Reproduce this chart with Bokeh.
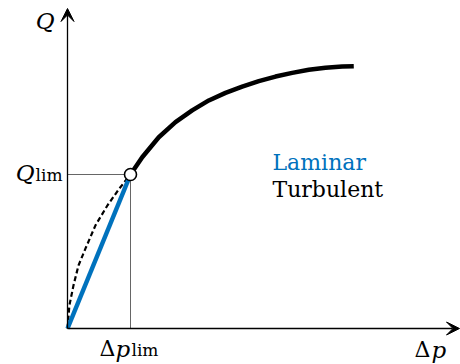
from bokeh.plotting import figure
from bokeh.models import Arrow, VeeHead, Label, Range1d
from bokeh.embed import file_html
from bokeh.resources import INLINE

# ---- data (Δp_lim = 1, Q_lim = 1) ----
dp_lim = 1.0
q_lim = 1.0
laminar_dp = [0.0, 1.0]
laminar_q = [0.0, 1.0]
dashed_dp = [0.0, 0.03, 0.095, 0.175, 0.286, 0.444, 0.635, 0.825, 1.0]
dashed_q = [0.0, 0.15, 0.28, 0.41, 0.52, 0.67, 0.80, 0.91, 1.0]
turb_dp = [1.0, 1.186, 1.449, 1.714, 1.979, 2.243, 2.508, 2.773, 3.037,
           3.302, 3.567, 3.830, 4.095, 4.360, 4.544]
turb_q = [1.0, 1.112, 1.242, 1.340, 1.416, 1.481, 1.530, 1.571, 1.606,
          1.636, 1.660, 1.680, 1.693, 1.701, 1.703]
legend_labels = ["Laminar", "Turbulent"]

# ---- layout ----
W, H = 460, 364
ox, oy = 67, 328          # origin in canvas pixels
sx, sy = 63.0, 154.0      # pixels per unit
x0, x1 = -ox / sx, (W - ox) / sx
y0, y1 = -(H - oy) / sy, oy / sy
x_tip = (W - 1 - ox) / sx
y_tip = (oy - 8) / sy
DY = 7                    # vertical text correction

BLUE = "#0072BD"
FONT = "DejaVu Serif"

p = figure(width=W, height=H, output_backend="svg", toolbar_location=None,
           x_range=Range1d(x0, x1), y_range=Range1d(y0, y1), min_border=0)
p.axis.visible = False
p.grid.visible = False
p.outline_line_color = None
p.background_fill_color = "white"
p.border_fill_color = "white"

# guide lines
p.line([0, dp_lim], [q_lim, q_lim], line_color="#555555", line_width=0.9)
p.line([dp_lim, dp_lim], [0, q_lim], line_color="#555555", line_width=0.9)

# curves
p.line(dashed_dp, dashed_q, line_color="black", line_width=2.2, line_dash="5 3")
p.line(laminar_dp, laminar_q, line_color=BLUE, line_width=4.5)
p.line(turb_dp, turb_q, line_color="black", line_width=4.5,
       line_cap="butt", line_join="round")
p.scatter([dp_lim], [q_lim], size=12, fill_color="white", line_color="black",
          line_width=1.6)

# axes with arrows
for xe, ye in [(0, y_tip), (x_tip, 0)]:
    p.add_layout(Arrow(x_start=0, y_start=0, x_end=xe, y_end=ye,
                       line_color="black", line_width=1.3,
                       end=VeeHead(size=13, fill_color="black", line_color="black",
                                   line_width=1)))

def lab(x, y, text, xo, yo, size, style="normal", color="black", align="left"):
    p.add_layout(Label(x=x, y=y, text=text, x_offset=xo, y_offset=yo + DY,
                       text_font=FONT, text_font_size=f"{size}px",
                       text_font_style=style, text_color=color,
                       text_align=align, text_baseline="alphabetic"))

# axis labels
lab(0, y_tip, "Q", -13, -19, 23, "italic", align="right")
lab(x_tip, 0, "Δ", -45, -28, 22)
lab(x_tip, 0, "p", -28, -28, 23, "italic")

# Q_lim
lab(0, q_lim, "lim", -5, -7, 17, align="right")
lab(0, q_lim, "Q", -33, -5, 23, "italic", align="right")

# Δp_lim
lab(dp_lim, 0, "Δ", -31, -27, 22)
lab(dp_lim, 0, "p", -15, -27, 23, "italic")
lab(dp_lim, 0, "lim", 1, -28, 17)

# legend text
lab(3.254, 1.032, legend_labels[0], 0, 0, 22, color=BLUE)
lab(3.254, 0.857, legend_labels[1], 0, 0, 22)

open("out.html", "w").write(file_html(p, INLINE))
